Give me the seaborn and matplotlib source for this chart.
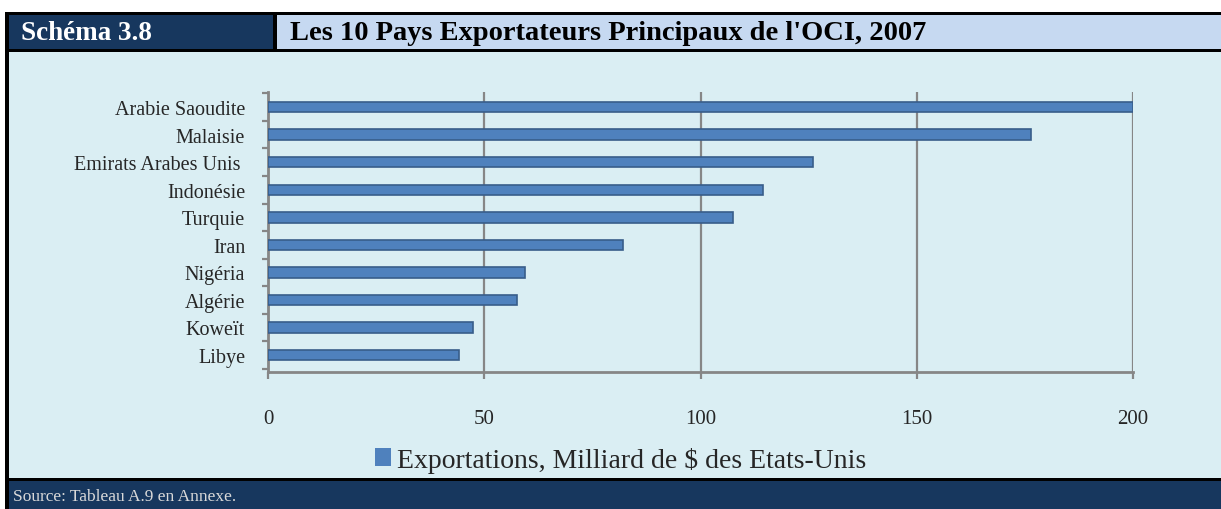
import matplotlib
matplotlib.use('Agg')
import matplotlib.pyplot as plt
import matplotlib.patches as mpatches
import seaborn as sns
import pandas as pd

# data
pays = ['Arabie Saoudite', 'Malaisie', 'Emirats Arabes Unis ', 'Indonésie', 'Turquie',
        'Iran', 'Nigéria', 'Algérie', 'Koweït', 'Libye']
exportations = [200, 176.5, 126, 114.5, 107.4, 82, 59.5, 57.5, 47.5, 44.2]
xticks = [0, 50, 100, 150, 200]
serie = 'Exportations, Milliard de $ des Etats-Unis'

df = pd.DataFrame({'pays': pays, 'val': exportations})

sns.set_style('white')
plt.rcParams['font.family'] = ['Liberation Serif', 'DejaVu Serif']

W, H = 1221, 510
fig = plt.figure(figsize=(W / 100, H / 100), dpi=100)
fig.patch.set_facecolor('white')

def box(x0, y0, x1, y1, color):
    # pixel coords from top-left
    r = mpatches.Rectangle((x0 / W, 1 - y1 / H), (x1 - x0) / W, (y1 - y0) / H,
                           transform=fig.transFigure, facecolor=color, edgecolor='none', zorder=-10)
    fig.patches.append(r)

box(5, 13, W, 510, 'black')
box(9, 16, 273, 50, '#17375e')
box(277, 16, W, 50, '#c6d9f1')
box(9, 53, W, 479, '#daeef3')
box(9, 482, W, 510, '#17375e')

fig.text(21 / W, 1 - 34 / H, 'Schéma 3.8', color='white', fontsize=19.5, fontweight='bold',
         va='center', ha='left')
fig.text(290 / W, 1 - 34 / H, "Les 10 Pays Exportateurs Principaux de l'OCI, 2007", color='black',
         fontsize=20.5, fontweight='bold', va='center', ha='left')
fig.text(13 / W, 1 - 497 / H, 'Source: Tableau A.9 en Annexe.', color='#d9d9d9', fontsize=12.5,
         va='center', ha='left')

ax = fig.add_axes([268 / W, 1 - 373 / H, 865 / W, (373 - 93) / H])
ax.set_facecolor('none')
sns.barplot(data=df, y='pays', x='val', orient='h', color='#4f81bd', width=0.38,
            edgecolor='#385d8a', linewidth=1.2, saturation=1, ax=ax, zorder=3)
ax.set_xlim(0, 200)
ax.set_ylim(9.62, -0.55)
ax.set_xticks(xticks)
ax.set_xlabel('')
ax.set_ylabel('')
ax.set_axisbelow(True)
ax.grid(axis='x', color='#868686', linewidth=1.6)
ax.grid(axis='y', visible=False)
for s in ['top', 'right']:
    ax.spines[s].set_visible(False)
for s in ['left', 'bottom']:
    ax.spines[s].set_color('#868686')
    ax.spines[s].set_linewidth(2)
ax.tick_params(axis='x', labelsize=15, pad=22, length=5, width=1.6, color='#868686',
               bottom=True, direction='out')
ax.tick_params(axis='y', labelsize=14.5, pad=16.5, length=0)
ax.set_yticks([i + 0.5 for i in range(-1, 10)], minor=True)
ax.tick_params(axis='y', which='minor', length=4, width=1.6, color='#868686', left=True)

handle = mpatches.Patch(facecolor='#4f81bd', edgecolor='none', label=serie)
fig.legend(handles=[handle], loc='center', bbox_to_anchor=(0.508, 1 - 461 / H), frameon=False,
           fontsize=20, handlelength=0.6, handleheight=0.6, handletextpad=0.2)

fig.savefig('out.png', dpi=100)
